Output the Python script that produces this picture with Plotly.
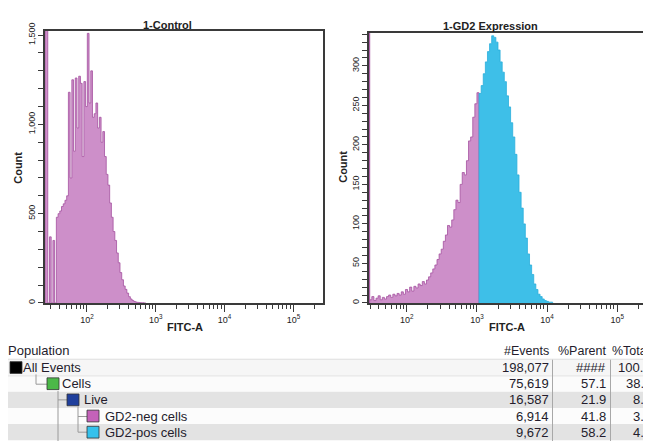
import plotly.graph_objects as go

W, H = 651, 442          # browser window (reference picture size)
OFF = 8                  # default page margin the figure is placed after
FW, FH = W - OFF, H - OFF

# ---------------- DATA ----------------
# Histogram 1-Control: counts per log10 bin (FITC-A), bins start at 10^1.43, width 0.025 decades
control_bin_start = 1.43
control_bin_width = 0.025
control_counts = [0, 370, 0, 350, 0, 480, 500, 515, 540, 555, 575, 600, 1180, 700, 1250, 850,
                  1260, 980, 1270, 1230, 820, 1240, 1100, 1510, 1120, 1300, 1040, 1060, 1120, 980,
                  1040, 900, 960, 820, 720, 660, 560, 480, 400, 350, 280, 225, 170, 130, 95, 76,
                  55, 35, 22, 14, 8, 5, 3, 2, 1, 1, 0]
control_offscale = 1650

# Histogram 1-GD2 Expression: GD2-neg gate (magenta) and GD2-pos gate (cyan)
gd2_bin_width = 0.03
gd2neg_bin_start = 1.47
gd2neg_counts = [4, 8, 3, 6, 9, 4, 7, 5, 8, 10, 7, 11, 9, 12, 10, 14, 11, 17, 14, 20, 15, 21, 19,
                 24, 22, 27, 24, 29, 33, 38, 43, 48, 55, 62, 68, 78, 86, 98, 96, 105, 118, 130,
                 127, 150, 165, 162, 180, 205, 210, 235, 252, 266]
gd2pos_bin_start = 3.03
gd2pos_counts = [265, 275, 290, 305, 318, 328, 338, 336, 330, 320, 305, 292, 280, 262, 248, 228,
                 210, 188, 162, 140, 120, 100, 82, 62, 48, 36, 24, 17, 11, 8, 5, 3, 2, 1, 1]
gd2_offscale = 360

# Table
populations = ["All Events", "Cells", "Live", "GD2-neg cells", "GD2-pos cells"]
events = [198077, 75619, 16587, 6914, 9672]
pct_parent = [None, 57.1, 21.9, 41.8, 58.2]
pct_total = [100.0, 38.2, 8.4, 3.5, 4.9]
pop_colors = ["#000000", "#4cb848", "#1f3f9c", "#c462b9", "#34c1ec"]

x_decades = [2, 3, 4, 5]
control_yticks = [0, 500, 1000, 1500]
gd2_yticks = [0, 50, 100, 150, 200, 250, 300]

# ---------------- LAYOUT HELPERS (reference pixel -> paper) ----------------
def px(x):
    return (x - OFF) / FW

def py(y):
    return 1 - (y - OFF) / FH

def step_xy(start_log, width, counts):
    edges = [10 ** (start_log + width * i) for i in range(len(counts) + 1)]
    xs, ys = [edges[0]], [0]
    for i, c in enumerate(counts):
        xs.append(edges[i]); ys.append(c)
    xs.append(edges[-1]); ys.append(0)
    return xs, ys

MAG_FILL = "#cd8fc9"
MAG_LINE = "#a4509f"
CY_FILL = "#3ebfe8"
CY_LINE = "#2aaedc"
FRAME = "#3a3a3a"
FONT = "Liberation Sans"
TXT = "#241c2c"

fig = go.Figure()

def hist(xs, ys, line, fill, xa, ya, w=0.8):
    fig.add_trace(go.Scatter(x=xs, y=ys, mode="lines", line=dict(shape="hv", color=line, width=w),
                             fill="tozeroy", fillcolor=fill, xaxis=xa, yaxis=ya, hoverinfo="skip"))

hist(*step_xy(1.39, control_bin_start - 1.39, [control_offscale]), MAG_LINE, MAG_FILL, "x", "y")
hist(*step_xy(control_bin_start, control_bin_width, control_counts), MAG_LINE, MAG_FILL, "x", "y")
hist(*step_xy(1.455, gd2neg_bin_start - 1.455, [gd2_offscale]), MAG_LINE, MAG_FILL, "x2", "y2", 1)
hist(*step_xy(gd2neg_bin_start, gd2_bin_width, gd2neg_counts), MAG_LINE, MAG_FILL, "x2", "y2")
hist(*step_xy(gd2pos_bin_start, gd2_bin_width, gd2pos_counts), CY_LINE, CY_FILL, "x2", "y2")

minor_x = [m * 10 ** d for d in range(1, 6) for m in range(2, 10)]
tickfont = dict(family=FONT, size=9, color="#222222")

def xaxis_cfg(domain, rng, anchor):
    return dict(domain=domain, type="log", range=rng, anchor=anchor,
                tickvals=[10 ** d for d in x_decades],
                ticktext=["10<sup>%d</sup>" % d for d in x_decades],
                ticks="outside", ticklen=7, tickwidth=1.3, tickcolor=FRAME,
                showline=True, linecolor=FRAME, linewidth=1.6, mirror=True,
                showgrid=False, zeroline=False, tickfont=tickfont,
                minor=dict(tickvals=minor_x, ticks="outside", ticklen=4, tickwidth=1.1,
                           tickcolor=FRAME, showgrid=False))

def yaxis_cfg(domain, rng, anchor, tickvals, minor_dtick):
    return dict(domain=domain, range=rng, anchor=anchor,
                tickvals=tickvals, ticktext=["{:,}".format(v) for v in tickvals],
                tickangle=-90, ticks="outside", ticklen=5, tickwidth=1.2, tickcolor=FRAME,
                showline=True, linecolor=FRAME, linewidth=1.6, mirror=True,
                showgrid=False, zeroline=False, tickfont=tickfont,
                minor=dict(dtick=minor_dtick, ticks="outside", ticklen=5, tickwidth=1.1,
                           tickcolor=FRAME, showgrid=False))

fig.update_layout(
    width=FW, height=FH, margin=dict(l=0, r=0, t=0, b=0),
    paper_bgcolor="white", plot_bgcolor="white", showlegend=False,
    xaxis=xaxis_cfg([px(45), px(323)], [1.39, 5.43], "y"),
    yaxis=yaxis_cfg([py(301), py(23)], [0, 1525], "x", control_yticks, 100),
    xaxis2=xaxis_cfg([px(369), px(648)], [1.46, 5.44], "y2"),
    yaxis2=yaxis_cfg([py(301), py(25)], [0, 342], "x2", gd2_yticks, 10),
)

ann = []
def text(x, y, s, size=11, bold=False, anchor="center", angle=0, color="#222222"):
    ann.append(dict(x=px(x), y=py(y), xref="paper", yref="paper", text=("<b>%s</b>" % s) if bold else s,
                    showarrow=False, xanchor=anchor, yanchor="middle", textangle=angle,
                    font=dict(family=FONT, size=size, color=color)))

# titles and axis titles
text(167, 17, "1-Control", size=11, bold=True)
text(490, 18, "1-GD2 Expression", size=11, bold=True)
text(185, 326, "FITC-A", size=11, bold=True)
text(507, 326, "FITC-A", size=11, bold=True)
text(18, 163, "Count", size=11, bold=True, angle=-90)
text(343, 162, "Count", size=11, bold=True, angle=-90)

# ---------------- TABLE ----------------
shapes = []
row_centers = [367, 383.5, 400, 416.5, 433]
row_bg = ["#f6f6f6", "#fbfbfb", "#e3e3e3", "#fcfcfc", "#e3e3e3"]
row_half = 8.25
for c, bg in zip(row_centers, row_bg):
    shapes.append(dict(type="rect", xref="paper", yref="paper", x0=0, x1=1,
                       y0=py(c + row_half), y1=py(c - row_half), fillcolor=bg,
                       line=dict(width=0), layer="below"))
shapes.append(dict(type="line", xref="paper", yref="paper", x0=0, x1=1, y0=py(358.5), y1=py(358.5),
                   line=dict(color="#dddddd", width=1)))
shapes.append(dict(type="line", xref="paper", yref="paper", x0=0, x1=1, y0=py(375.5), y1=py(375.5),
                   line=dict(color="#e2e2e2", width=1)))

# tree connectors
tree_color = "#9a9a9a"
def seg(x0, y0, x1, y1):
    shapes.append(dict(type="line", xref="paper", yref="paper", x0=px(x0), y0=py(y0), x1=px(x1), y1=py(y1),
                       line=dict(color=tree_color, width=1)))
seg(36, 374, 36, 384); seg(36, 384, 47, 384)
seg(58, 391, 58, 442); seg(58, 400, 67, 400)
seg(78, 407, 78, 433); seg(78, 417, 87, 417); seg(78, 433, 87, 433)

square_left = [10, 47, 67, 87, 87]
text_left = [21, 60, 82, 103, 103]
sq = 12
TS = 13
for i, name in enumerate(populations):
    c = row_centers[i]
    shapes.append(dict(type="rect", xref="paper", yref="paper", x0=px(square_left[i]), x1=px(square_left[i] + sq),
                       y0=py(c + sq / 2), y1=py(c - sq / 2), fillcolor=pop_colors[i],
                       line=dict(color="#333333", width=0.8)))
    text(text_left[i], c, name, size=TS, anchor="left", color=TXT)
    text(551, c, "{:,}".format(events[i]), size=TS, anchor="right", color=TXT)
    text(608, c, "####" if pct_parent[i] is None else "%.1f" % pct_parent[i], size=TS, anchor="right",
         color=TXT)
    text(653, c, "%.1f" % pct_total[i], size=TS, anchor="right", color=TXT)

text(6, 350, "Population", size=TS, anchor="left", color=TXT)
text(551, 350, "#Events", size=12.5, anchor="right", color=TXT)
text(608, 350, "%Parent", size=12.5, anchor="right", color=TXT)
text(610, 350, "%Total", size=12.5, anchor="left", color=TXT)

for xs in (552.5, 610.5):
    shapes.append(dict(type="line", xref="paper", yref="paper", x0=px(xs), x1=px(xs), y0=py(359), y1=0,
                       line=dict(color="#a8a8a8", width=1)))

fig.update_layout(annotations=ann, shapes=shapes)
fig.write_html("out.html")
